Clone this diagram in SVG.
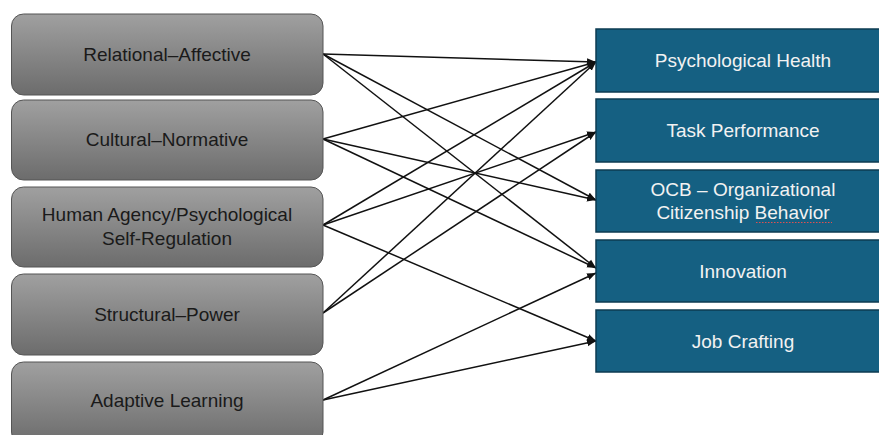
<svg xmlns="http://www.w3.org/2000/svg" width="879" height="435" viewBox="0 0 879 435">
<style>
.src rect{fill:url(#g);stroke:#555;stroke-width:1}
.src text{font-family:"Liberation Sans",Arial,sans-serif;font-size:19px;fill:#1a1a1a;text-anchor:middle}
.dst rect{fill:#156082;stroke:#0d3b52;stroke-width:1.5}
.dst text{font-family:"Liberation Sans",Arial,sans-serif;font-size:19px;fill:#f2f2f2;text-anchor:middle}
#edges line{stroke:#111;stroke-width:1.5;marker-end:url(#ah)}
</style>
<defs>
<linearGradient id="g" x1="0" y1="0" x2="0" y2="1">
<stop offset="0" stop-color="#a0a0a0"/>
<stop offset="1" stop-color="#6c6c6c"/>
</linearGradient>
<marker id="ah" markerUnits="userSpaceOnUse" markerWidth="10" markerHeight="8" refX="9" refY="4" orient="auto">
<path d="M0,0.5 L9,4 L0,7.5 z" fill="#111"/>
</marker>
</defs>
<g id="edges">
<line x1="323" y1="54" x2="596" y2="62"/>
<line x1="323" y1="54" x2="596" y2="200"/>
<line x1="323" y1="54" x2="596" y2="268"/>
<line x1="323" y1="139" x2="596" y2="62"/>
<line x1="323" y1="139" x2="596" y2="200"/>
<line x1="323" y1="139" x2="596" y2="268"/>
<line x1="323" y1="225" x2="596" y2="62"/>
<line x1="323" y1="225" x2="596" y2="132"/>
<line x1="323" y1="225" x2="596" y2="341"/>
<line x1="323" y1="313" x2="596" y2="62"/>
<line x1="323" y1="313" x2="596" y2="132"/>
<line x1="323" y1="400" x2="596" y2="273"/>
<line x1="323" y1="400" x2="596" y2="341"/>
</g>
<g id="relational" class="src"><rect x="11.5" y="14" width="311.5" height="81" rx="12"/><text x="167" y="61">Relational–Affective</text></g>
<g id="cultural" class="src"><rect x="11.5" y="100" width="311.5" height="80" rx="12"/><text x="167" y="146">Cultural–Normative</text></g>
<g id="agency" class="src"><rect x="11.5" y="187" width="311.5" height="80" rx="12"/><text x="167" y="221">Human Agency/Psychological</text><text x="167" y="245">Self-Regulation</text></g>
<g id="structural" class="src"><rect x="11.5" y="274" width="311.5" height="81" rx="12"/><text x="167" y="321">Structural–Power</text></g>
<g id="adaptive" class="src"><rect x="11.5" y="362" width="311.5" height="82" rx="12"/><text x="167" y="407">Adaptive Learning</text></g>
<g id="health" class="dst"><rect x="596" y="29" width="296" height="63"/><text x="743" y="67">Psychological Health</text></g>
<g id="task" class="dst"><rect x="596" y="99" width="296" height="63"/><text x="743" y="137">Task Performance</text></g>
<g id="ocb" class="dst"><rect x="596" y="170" width="296" height="62"/><text x="743" y="196">OCB – Organizational</text><text x="743" y="219">Citizenship Behavior</text><path d="M756,222.5 h76" stroke="#e05050" stroke-width="1.2" stroke-dasharray="1.5,1.5" fill="none"/></g>
<g id="innovation" class="dst"><rect x="596" y="240" width="296" height="62"/><text x="743" y="278">Innovation</text></g>
<g id="crafting" class="dst"><rect x="596" y="310" width="296" height="62"/><text x="743" y="348">Job Crafting</text></g>
</svg>
